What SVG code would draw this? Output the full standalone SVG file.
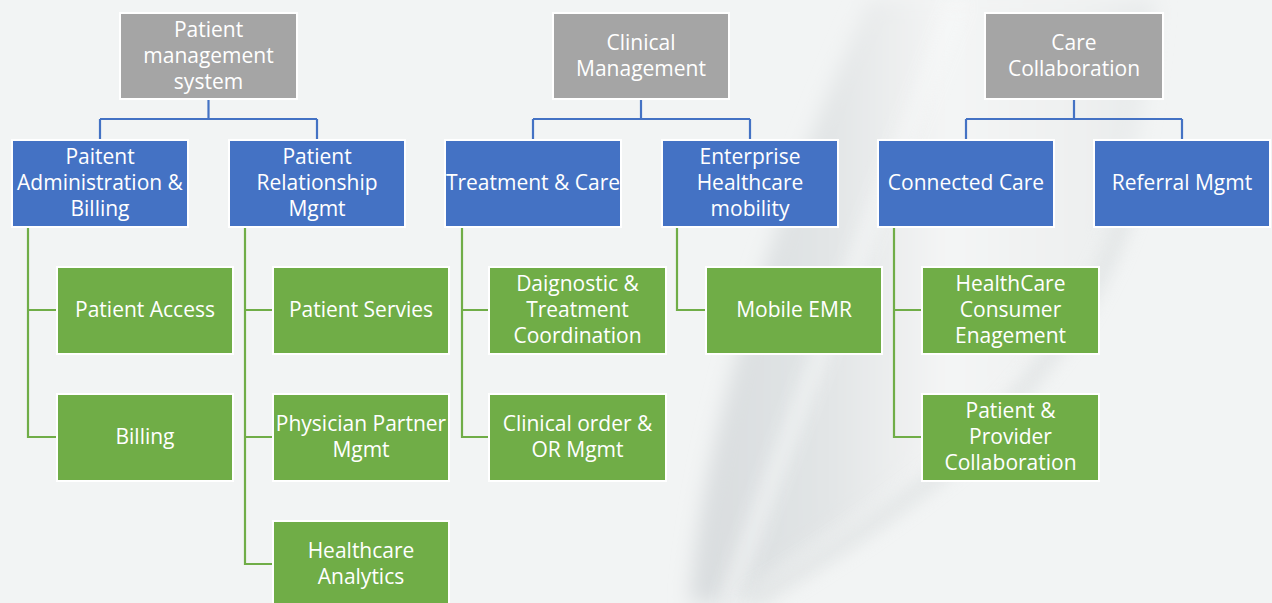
<svg xmlns="http://www.w3.org/2000/svg" width="1272" height="603" viewBox="0 0 1272 603">
<defs>
<style>
.t{font-family:"Open Sans","DejaVu Sans",sans-serif;font-size:21px;fill:#fff;text-anchor:middle}
.gr{fill:#A5A5A5;stroke:#fff;stroke-width:2}
.bl{fill:#4472C4;stroke:#fff;stroke-width:2}
.gn{fill:#70AD47;stroke:#fff;stroke-width:2}
.cb{fill:none;stroke:#4472C4;stroke-width:2.2}
.cg{fill:none;stroke:#70AD47;stroke-width:2.2}
</style>
<linearGradient id="leaf" x1="0" y1="0" x2="1" y2="0">
<stop offset="0" stop-color="#D8DCDE"/>
<stop offset="0.3" stop-color="#E2E5E6"/>
<stop offset="0.55" stop-color="#F4F5F5"/>
<stop offset="0.85" stop-color="#EEF0F0"/>
<stop offset="1" stop-color="#E6E9EA"/>
</linearGradient>
<filter id="blur" x="-20%" y="-20%" width="140%" height="140%"><feGaussianBlur stdDeviation="10"/></filter>
<filter id="blur2" x="-20%" y="-20%" width="140%" height="140%"><feGaussianBlur stdDeviation="9"/></filter>
</defs>
<rect width="1272" height="603" fill="#F2F4F4"/>
<g id="background">
<path d="M870,0 C800,150 705,400 690,603 L740,603 C820,530 960,470 1060,330 C1120,250 1145,120 1155,0 Z" fill="url(#leaf)" filter="url(#blur)"/>
<path d="M960,0 C900,150 800,400 727,603" fill="none" stroke="#F8F9F9" stroke-width="12" opacity="0.85" filter="url(#blur2)"/>
<path d="M1130,200 C1100,300 1050,360 980,440 C900,510 820,560 750,603" fill="none" stroke="#D8DCDD" stroke-width="14" opacity="0.7" filter="url(#blur2)"/>
</g>
<g id="connectors">
<path class="cb" d="M208.5,100 V119 M100,119 H317 M100,119 V139 M317,119 V139"/>
<path class="cb" d="M641,100 V119 M533,119 H750 M533,119 V139 M750,119 V139"/>
<path class="cb" d="M1074,100 V119 M966,119 H1182 M966,119 V139 M1182,119 V139"/>
<path class="cg" d="M28,228 V437 H56 M28,310 H56"/>
<path class="cg" d="M245,228 V564 H272 M245,310 H272 M245,437 H272"/>
<path class="cg" d="M462,228 V437 H488 M462,310 H488"/>
<path class="cg" d="M677,228 V310 H705"/>
<path class="cg" d="M894,228 V437 H921 M894,310 H921"/>
</g>
<g id="n-pms"><rect class="gr" x="120" y="13" width="177" height="86"/><text class="t" x="208.5" y="37">Patient</text><text class="t" x="208.5" y="63">management</text><text class="t" x="208.5" y="89">system</text></g>
<g id="n-clin"><rect class="gr" x="553" y="13" width="176" height="86"/><text class="t" x="641" y="50">Clinical</text><text class="t" x="641" y="76">Management</text></g>
<g id="n-care"><rect class="gr" x="985" y="13" width="178" height="86"/><text class="t" x="1074" y="50">Care</text><text class="t" x="1074" y="76">Collaboration</text></g>

<g id="n-pab"><rect class="bl" x="12" y="140" width="176" height="87"/><text class="t" x="100" y="164">Paitent</text><text class="t" x="100" y="190">Administration &amp;</text><text class="t" x="100" y="216">Billing</text></g>
<g id="n-prm"><rect class="bl" x="229" y="140" width="176" height="87"/><text class="t" x="317" y="164">Patient</text><text class="t" x="317" y="190">Relationship</text><text class="t" x="317" y="216">Mgmt</text></g>
<g id="n-tc"><rect class="bl" x="445" y="140" width="176" height="87"/><text class="t" x="533" y="190">Treatment &amp; Care</text></g>
<g id="n-ehm"><rect class="bl" x="662" y="140" width="176" height="87"/><text class="t" x="750" y="164">Enterprise</text><text class="t" x="750" y="190">Healthcare</text><text class="t" x="750" y="216">mobility</text></g>
<g id="n-cc"><rect class="bl" x="878" y="140" width="176" height="87"/><text class="t" x="966" y="190">Connected Care</text></g>
<g id="n-ref"><rect class="bl" x="1094" y="140" width="176" height="87"/><text class="t" x="1182" y="190">Referral Mgmt</text></g>

<g id="n-pa"><rect class="gn" x="57" y="267" width="176" height="87"/><text class="t" x="145" y="317">Patient Access</text></g>
<g id="n-bill"><rect class="gn" x="57" y="394" width="176" height="87"/><text class="t" x="145" y="444">Billing</text></g>
<g id="n-ps"><rect class="gn" x="273" y="267" width="176" height="87"/><text class="t" x="361" y="317">Patient Servies</text></g>
<g id="n-ppm"><rect class="gn" x="273" y="394" width="176" height="87"/><text class="t" x="361" y="431">Physician Partner</text><text class="t" x="361" y="457">Mgmt</text></g>
<g id="n-ha"><rect class="gn" x="273" y="521" width="176" height="87"/><text class="t" x="361" y="558">Healthcare</text><text class="t" x="361" y="584">Analytics</text></g>
<g id="n-dtc"><rect class="gn" x="489" y="267" width="177" height="87"/><text class="t" x="577.5" y="291">Daignostic &amp;</text><text class="t" x="577.5" y="317">Treatment</text><text class="t" x="577.5" y="343">Coordination</text></g>
<g id="n-co"><rect class="gn" x="489" y="394" width="177" height="87"/><text class="t" x="577.5" y="431">Clinical order &amp;</text><text class="t" x="577.5" y="457">OR Mgmt</text></g>
<g id="n-emr"><rect class="gn" x="706" y="267" width="176" height="87"/><text class="t" x="794" y="317">Mobile EMR</text></g>
<g id="n-hce"><rect class="gn" x="922" y="267" width="177" height="87"/><text class="t" x="1010.5" y="291">HealthCare</text><text class="t" x="1010.5" y="317">Consumer</text><text class="t" x="1010.5" y="343">Enagement</text></g>
<g id="n-ppc"><rect class="gn" x="922" y="394" width="177" height="87"/><text class="t" x="1010.5" y="418">Patient &amp;</text><text class="t" x="1010.5" y="444">Provider</text><text class="t" x="1010.5" y="470">Collaboration</text></g>
</svg>
